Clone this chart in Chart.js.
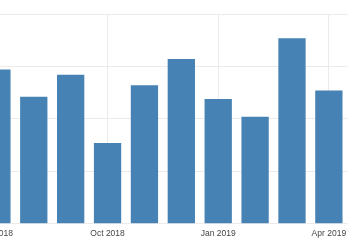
<!DOCTYPE html>
<html>
<head>
<meta charset="utf-8">
<script src="https://cdn.jsdelivr.net/npm/chart.js@4"></script>
<style>
  html, body { margin: 0; padding: 0; background: #fff; overflow: hidden; }
  #wrap { position: absolute; left: -24px; top: 0; width: 375px; height: 250px; }
</style>
</head>
<body>
<div id="wrap"><canvas id="grafico"></canvas></div>
<script>
const meses = ['Jul 2018', 'Aug 2018', 'Sep 2018', 'Oct 2018', 'Nov 2018', 'Dec 2018',
               'Jan 2019', 'Feb 2019', 'Mar 2019', 'Apr 2019'];
const valores = [147, 121, 142, 77, 132, 157, 119, 102, 177, 127];
const etiquetasVisibles = ['Jul 2018', 'Oct 2018', 'Jan 2019', 'Apr 2019'];

document.addEventListener('DOMContentLoaded', () => {
  const ctx = document.getElementById('grafico');
  new Chart(ctx, {
    type: 'bar',
    data: {
      labels: meses,
      datasets: [{
        data: valores,
        backgroundColor: '#4682b4',
        categoryPercentage: 1,
        barPercentage: 0.74
      }]
    },
    options: {
      responsive: true,
      maintainAspectRatio: false,
      animation: false,
      layout: { padding: { top: 14, bottom: 6, left: 0, right: 0 } },
      plugins: { legend: { display: false }, tooltip: { enabled: false } },
      scales: {
        x: {
          grid: {
            offset: false,
            drawTicks: false,
            color: c => etiquetasVisibles.includes(meses[c.index]) ? '#ebebeb' : 'rgba(0,0,0,0)'
          },
          border: { display: false },
          ticks: {
            autoSkip: false,
            maxRotation: 0,
            padding: 5,
            color: '#444',
            font: { family: 'Liberation Sans', size: 8.5 },
            callback: (v, i) => etiquetasVisibles.includes(meses[i]) ? meses[i] : ''
          }
        },
        y: {
          min: 0,
          max: 200,
          ticks: { display: false, stepSize: 50 },
          grid: { drawTicks: false, color: '#ebebeb' },
          border: { display: false }
        }
      }
    }
  });
});
</script>
</body>
</html>
